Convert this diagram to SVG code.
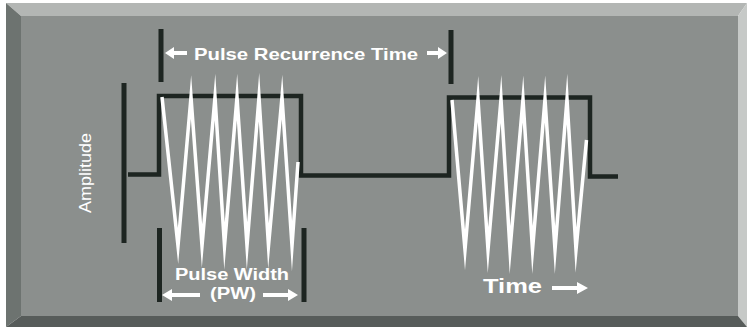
<svg xmlns="http://www.w3.org/2000/svg" width="747" height="332" viewBox="0 0 747 332">
<style>
.bar{fill:#1d2521}
.sq{fill:none;stroke:#1d2521;stroke-width:4.5;stroke-linejoin:miter}
.zig{fill:none;stroke:#ffffff;stroke-width:3.5;stroke-linejoin:miter;stroke-miterlimit:60;stroke-linecap:butt}
.arr{fill:#ffffff}
.lbl{fill:#ffffff;font-family:"Liberation Sans",Arial,sans-serif;font-weight:bold}
.lblr{fill:#ffffff;font-family:"Liberation Sans",Arial,sans-serif}
</style>
<rect x="0" y="0" width="747" height="332" fill="#ffffff"/>
<g id="frame">
  <rect x="21" y="16" width="717" height="300" fill="#8b8f8d"/>
  <polygon points="6,3 747,3 738,16 21,16" fill="#b3b6b4"/>
  <polygon points="6,3 21,16 21,316 6,327" fill="#6d7370"/>
  <polygon points="747,3 747,327 738,316 738,16" fill="#c6c9c7"/>
  <polygon points="6,327 21,316 738,316 747,327" fill="#575c5a"/>
</g>
<g id="markers">
  <rect class="bar" x="121.5" y="83" width="5" height="160"/>
  <rect class="bar" x="158.5" y="29" width="5" height="53"/>
  <rect class="bar" x="448.5" y="30" width="5" height="54"/>
  <rect class="bar" x="157" y="228" width="5" height="74"/>
  <rect class="bar" x="301.5" y="228" width="5" height="74"/>
</g>
<g id="pulse-envelope">
  <path class="sq" d="M128,174.5 H159 V96 H301 V175.5 H449 V97.5 H590 V176.5 H618"/>
</g>
<g id="carrier-1">
  <polyline class="zig" points="162,97 178,246 191,97 202,246 215,97 224.5,246 237,97 247,246 259,97 268.5,246 282,97 292,246 298,162"/>
</g>
<g id="carrier-2">
  <polyline class="zig" points="452,100 465,250 478,99 488,250 501,99 510,250 523,99 532.5,250 545,99 555,250 567,99 576,250 586.5,140"/>
</g>
<g id="arrows">
  <polygon class="arr" points="165,53 174,47 174,51 187,51 187,55 174,55 174,59"/>
  <polygon class="arr" points="447,53 438,47 438,51 427,51 427,55 438,55 438,59"/>
  <polygon class="arr" points="162,295 172,289 172,293 200,293 200,297 172,297 172,301"/>
  <polygon class="arr" points="298,295 288,289 288,293 263,293 263,297 288,297 288,301"/>
  <polygon class="arr" points="588,288 577,282 577,286 552,286 552,290 577,290 577,294"/>
</g>
<g id="labels">
  <text class="lbl" x="194" y="60" font-size="17" textLength="224" lengthAdjust="spacingAndGlyphs">Pulse Recurrence Time</text>
  <text class="lblr" transform="translate(91,173) rotate(-90)" text-anchor="middle" font-size="17" textLength="80" lengthAdjust="spacingAndGlyphs">Amplitude</text>
  <text class="lbl" x="175" y="280" font-size="16" textLength="114" lengthAdjust="spacingAndGlyphs">Pulse Width</text>
  <text class="lbl" x="210" y="298.5" font-size="16" textLength="46" lengthAdjust="spacingAndGlyphs">(PW)</text>
  <text class="lbl" x="483" y="293" font-size="21" textLength="59" lengthAdjust="spacingAndGlyphs">Time</text>
</g>
</svg>
